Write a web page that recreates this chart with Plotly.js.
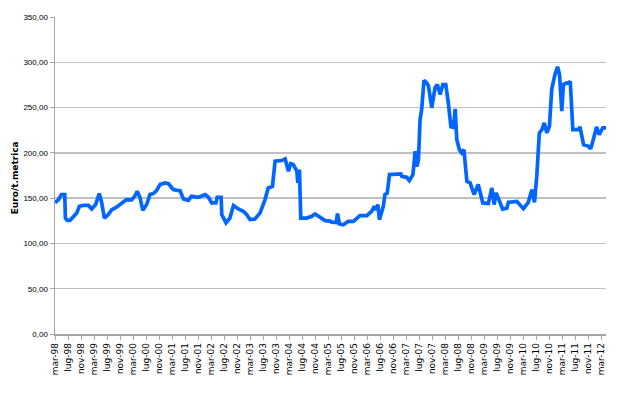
<!DOCTYPE html>
<html>
<head>
<meta charset="utf-8">
<script src="https://cdn.plot.ly/plotly-3.0.1.min.js"></script>
<style>
html,body{margin:0;padding:0;background:#fff;}
#chart{width:619px;height:393px;}
</style>
</head>
<body>
<div id="chart"></div>
<script>
// Months elapsed since March 1998 (fractional = within the month)
const monthsFromMar98 = [
  0, 1, 2, 3, 3.2, 3.8, 4.6, 5.6, 6.7, 7.5, 8.7, 10.3, 11.3, 12.5, 13.6, 14.3, 15.2, 16.4, 17.4, 18.9,
  20.5, 22, 23.6, 24.5, 25.3, 26.2, 27, 28.2, 29.2, 30.2, 31.2, 32.3, 33.8, 34.9, 35.8, 36.4, 38.5, 39.5,
  41, 42, 44.1, 46.2, 47.2, 48.2, 49.5, 49.9, 51.1, 51.3, 52.6, 53.8, 54.9, 56.4, 57.9, 59, 60, 61.5,
  63.1, 64.6, 65.6, 66.9, 67.7, 69.7, 70.8, 71.8, 72.5, 73.3, 74.4, 74.7, 75.2, 75.6, 77.4, 79, 80,
  81.5, 83.1, 84.6, 85.1, 86.5, 86.9, 87.5, 88.7, 90.2, 91.8, 93.8, 95.9, 97.4, 98.2, 98.8, 99.3, 99.8,
  100.5, 101, 101.5, 102.2, 102.9, 105.1, 106.4, 106.7, 108.2, 109, 110.1, 110.8, 111.3, 111.8, 112.3,
  112.8, 113.5, 114.4, 114.9, 115.9, 116.9, 117.6, 118.5, 119.3, 120.2, 121, 121.8, 122.6, 123.1, 123.6,
  124.4, 125.1, 125.8, 126.7, 127.7, 128.9, 130.2, 131.6, 133.3, 134.4, 135.1, 135.7, 137.7, 139, 139.5,
  142.1, 144.1, 145.6, 146.7, 147.5, 148.2, 149, 149.8, 150.5, 151.3, 152.1, 152.8, 153.8, 154.6, 155.2,
  155.9, 156.4, 157.4, 158, 158.5, 159.3, 161, 161.5, 162.6, 164.1, 164.8, 165.6, 166.6, 167.4, 168.5, 169.5
];
// Price in Euro per metric tonne
const priceEuroPerTonne = [
  145, 148, 154, 154, 128, 125.5, 125.5, 130, 133.7, 141, 142, 142, 138, 143, 155, 146, 128, 131.8, 137, 140,
  144.7, 148.4, 148, 152, 157.6, 150, 136.6, 143, 154, 155, 158, 165, 166.8, 166, 162, 159.5, 158, 149,
  147.6, 152, 151, 154, 151, 144.7, 144.7, 151, 151, 131.8, 122.6, 128, 141.8, 138, 135.5, 131.8, 126.3, 127,
  133.7, 148.4, 161.3, 163, 190.7, 191.5, 193.4, 179.7, 188, 187, 180, 166.8, 181.5, 128, 128, 130, 132.6,
  129, 125.2, 124.7, 123.5, 123, 133, 121.5, 120.5, 124.4, 124.4, 130.7, 130.7, 135.5, 141, 137, 142.9, 126.3,
  135.5, 141, 154, 155.6, 176, 176.8, 176.8, 174, 173, 169.4, 176, 201.8, 185, 192, 236.8,
  247.8, 280, 277, 273.6, 249.7, 271.8, 275.5, 264.4, 275.5, 275.5, 255, 228.7, 228, 248.6, 214.7,
  203.6, 200, 203.6, 168.6, 166.8, 154, 165, 144.7, 144, 161.3, 142.9, 155.8, 138, 139, 145.4,
  146.4, 138.4, 145.4, 159.4, 145.4, 174, 222, 225.7, 233, 222, 229.4, 270, 286.5, 295, 286.5,
  246, 275.5, 277.3, 277, 279, 225.7, 225.7, 228.7, 209.2, 207.3, 204.4, 214.7, 228.7, 220.2, 227.6, 227.6
];
const tickMonths = [0,4,8,12,16,20,24,28,32,36,40,44,48,52,56,60,64,68,72,76,80,84,88,92,96,100,104,108,112,116,120,124,128,132,136,140,144,148,152,156,160,164,168];
const tickLabels = [
  'mar-98','lug-98','nov-98','mar-99','lug-99','nov-99','mar-00','lug-00','nov-00',
  'mar-01','lug-01','nov-01','mar-02','lug-02','nov-02','mar-03','lug-03','nov-03',
  'mar-04','lug-04','nov-04','mar-05','lug-05','nov-05','mar-06','lug-06','nov-06',
  'mar-07','lug-07','nov-07','mar-08','lug-08','nov-08','mar-09','lug-09','nov-09',
  'mar-10','lug-10','nov-10','mar-11','lug-11','nov-11','mar-12'
];
const yTicks = [0,50,100,150,200,250,300,350];
const yTitle = 'Euro/t.metrica';

const trace = {
  x: monthsFromMar98,
  y: priceEuroPerTonne,
  type: 'scatter',
  mode: 'lines',
  line: {color: '#0066ff', width: 3.7},
  hoverinfo: 'skip'
};

const layout = {
  width: 619,
  height: 393,
  margin: {l: 55, r: 13, t: 17, b: 59, pad: 0},
  paper_bgcolor: '#ffffff',
  plot_bgcolor: '#ffffff',
  separators: ',.',
  showlegend: false,
  xaxis: {
    range: [0, 169.5],
    tickmode: 'array',
    tickvals: tickMonths,
    ticktext: tickLabels,
    tickangle: -90,
    ticks: 'outside',
    ticklen: 4,
    tickcolor: '#a6a6a6',
    showgrid: false,
    zeroline: false,
    showline: true,
    linecolor: '#a6a6a6',
    linewidth: 1.5,
    tickfont: {family: 'DejaVu Sans, sans-serif', size: 9, color: '#000000'}
  },
  yaxis: {
    range: [0, 350],
    tickmode: 'array',
    tickvals: yTicks,
    tickformat: '.2f',
    ticks: 'outside',
    ticklen: 4,
    tickcolor: '#a6a6a6',
    showgrid: true,
    gridcolor: '#bfbfbf',
    gridwidth: 1.5,
    zeroline: false,
    showline: true,
    linecolor: '#a6a6a6',
    linewidth: 1.5,
    tickfont: {family: 'Liberation Sans, Arial, sans-serif', size: 8, color: '#000000'}
  },
  annotations: [{
    text: yTitle,
    xref: 'paper', yref: 'paper',
    x: -0.071, y: 0.494,
    xanchor: 'center', yanchor: 'middle',
    textangle: -90,
    showarrow: false,
    font: {family: 'DejaVu Sans, sans-serif', size: 9, color: '#000000', weight: 'bold'}
  }]
};

Plotly.newPlot('chart', [trace], layout, {staticPlot: true, displayModeBar: false});
</script>
</body>
</html>
